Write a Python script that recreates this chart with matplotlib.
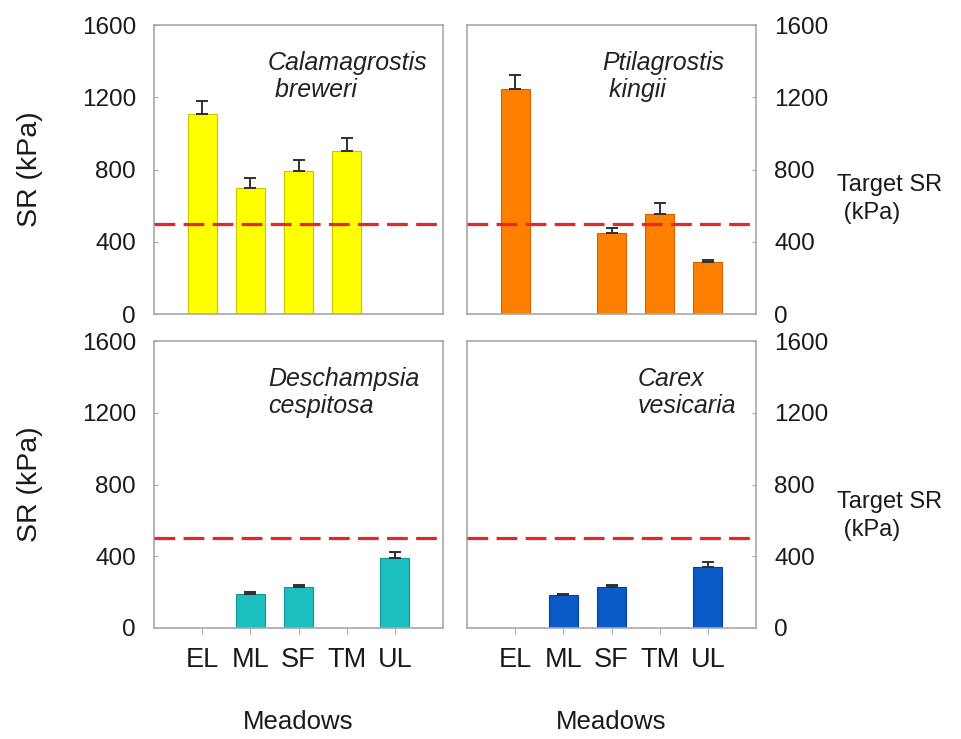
import numpy as np
import matplotlib
matplotlib.use("Agg")
import matplotlib.pyplot as plt
from matplotlib import font_manager

# ---- data ----
meadows = ["EL", "ML", "SF", "TM", "UL"]
species = ["Calamagrostis\n breweri", "Ptilagrostis\n kingii",
           "Deschampsia\ncespitosa", "Carex\nvesicaria"]
nan = np.nan
sr_cb = [1110, 700, 790, 905, nan]
err_cb = [70, 55, 60, 68, nan]
sr_pk = [1245, nan, 447, 552, 287]
err_pk = [78, nan, 30, 64, 12]
sr_dc = [nan, 192, 229, nan, 390]
err_dc = [nan, 8, 9, nan, 35]
sr_cv = [nan, 186, 229, nan, 338]
err_cv = [nan, 6, 11, nan, 30]
target_sr = 500
yticks = [0, 400, 800, 1200, 1600]

colors = ["#FFFF00", "#FF8000", "#1CC0C0", "#0A5AC8"]
edges = ["#C8C800", "#D06000", "#109898", "#0840A0"]

names = {f.name for f in font_manager.fontManager.ttflist}
base = "Liberation Sans" if "Liberation Sans" in names else "DejaVu Sans"
narrow = "Liberation Sans Narrow" if "Liberation Sans Narrow" in names else base
plt.rcParams["font.family"] = [base, "DejaVu Sans"]

W, H = 962, 739
fig = plt.figure(figsize=(W / 100, H / 100), dpi=100)

def rect(x0, y0, x1, y1):
    return [x0 / W, 1 - y1 / H, (x1 - x0) / W, (y1 - y0) / H]

rects = [rect(154, 25, 443, 314), rect(467, 25, 756, 314),
         rect(154, 341, 443, 628), rect(467, 341, 756, 628)]
data = [(sr_cb, err_cb), (sr_pk, err_pk), (sr_dc, err_dc), (sr_cv, err_cv)]

x = np.arange(len(meadows))
for i, (r, (vals, errs)) in enumerate(zip(rects, data)):
    ax = fig.add_axes(r)
    vals = np.array(vals, dtype=float)
    errs = np.array(errs, dtype=float)
    m = ~np.isnan(vals)
    ax.bar(x[m], vals[m], width=0.6, color=colors[i], edgecolor=edges[i],
           linewidth=0.8, zorder=2)
    ax.errorbar(x[m], vals[m], yerr=[np.zeros(m.sum()), errs[m]], fmt="none",
                ecolor="#303030", elinewidth=1.4, capsize=4, capthick=1.4, zorder=3)
    ax.axhline(target_sr, color="#E8262A", lw=2.3, dashes=(6.5, 2.6), zorder=4)
    ax.set_xlim(-1, 5)
    ax.set_ylim(0, 1600)
    ax.set_yticks(yticks)
    for s in ax.spines.values():
        s.set_color("#A8A8A8")
        s.set_linewidth(1.2)
    right = (i % 2 == 1)
    left_labels = not right
    ax.tick_params(axis="y", direction="in", length=3, color="#A8A8A8",
                   labelsize=17.5, pad=13, left=left_labels, labelleft=left_labels,
                   right=right, labelright=right, labelcolor="#1a1a1a")
    if i < 2:
        ax.set_xticks([])
    else:
        ax.set_xticks(x)
        ax.set_xticklabels(meadows, fontfamily=narrow, fontsize=19.5)
        ax.tick_params(axis="x", direction="out", length=4, color="#A8A8A8",
                       pad=10, labelcolor="#1a1a1a")
    tx = 268 if i % 2 == 0 else 602
    if i == 3:
        tx = 638
    x0 = r[0] * W
    ax.text((tx - x0) / 289, 1 - 26 / 289, species[i], transform=ax.transAxes,
            style="italic", fontsize=18, color="#222222", va="top", ha="left",
            linespacing=1.15)

for yc in [(25 + 314) / 2, (341 + 628) / 2]:
    fig.text(30 / W, 1 - yc / H, "SR (kPa)", rotation=90, ha="center",
             va="center", fontsize=20.5, color="#1a1a1a")
for yc in [199, 516]:
    fig.text(837 / W, 1 - yc / H, "Target SR\n (kPa)", ha="left", va="center",
             fontsize=17, color="#1a1a1a", linespacing=1.35)
for xc in [298, 611]:
    fig.text(xc / W, 1 - 722 / H, "Meadows", ha="center", va="center",
             fontsize=18.5, color="#1a1a1a")

fig.savefig("out.png", dpi=100)
